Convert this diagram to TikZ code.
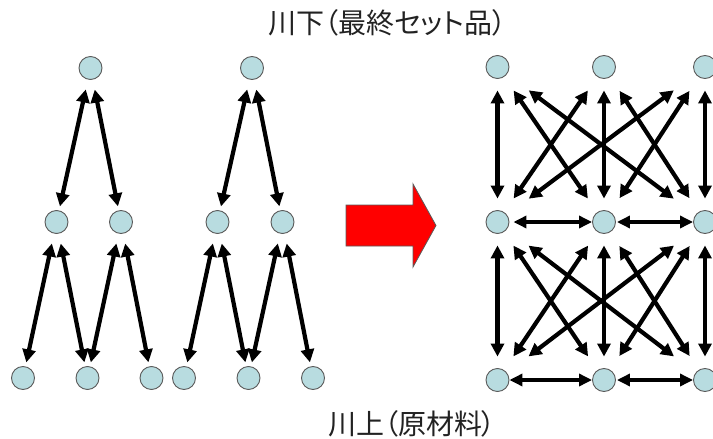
\documentclass[tikz,border=0pt]{standalone}
\usepackage{fontspec}
\newfontfamily\jp[RawFeature=+palt]{Noto Sans CJK JP}
\usetikzlibrary{arrows.meta}
\definecolor{nodefill}{HTML}{B8DCE0}
\definecolor{nodeline}{HTML}{5A5A5A}
\definecolor{txt}{HTML}{222222}
\tikzset{
  dot/.style={circle, fill=nodefill, draw=nodeline, line width=0.9pt, minimum size=23pt, inner sep=0pt},
  dbl/.style={line width=4.2pt, {Triangle[length=13pt,width=13pt]}-{Triangle[length=13pt,width=13pt]}},
  hdbl/.style={line width=3.4pt, {Triangle[length=13pt,width=12pt]}-{Triangle[length=13pt,width=12pt]}},
  tree/.style={dbl, shorten <=10pt, shorten >=4pt},
  sv/.style={dbl, shorten <=11.5pt, shorten >=11.5pt},
  sd/.style={dbl, shorten <=16.5pt, shorten >=16.5pt},
  sl/.style={dbl, shorten <=27pt, shorten >=27pt},
  lbl/.style={font=\jp\fontsize{28}{32}\selectfont, text=txt, inner sep=0pt}
}
\begin{document}
\begin{tikzpicture}[x=1pt,y=-1pt]
\useasboundingbox (0,0) rectangle (713,439);
% titles
\node[lbl] (top) at (387.5,23) {川下（最終セット品）};
\node[lbl] (bot) at (412,424) {川上（原材料）};
% left tree
\node[dot] (aT) at (90.5,68) {};
\node[dot] (aL) at (56.5,222) {};
\node[dot] (aR) at (121,222) {};
\node[dot] (a1) at (23,378) {};
\node[dot] (a2) at (87.5,378) {};
\node[dot] (a3) at (151.5,378) {};
% second tree
\node[dot] (bT) at (252,68) {};
\node[dot] (bL) at (217.5,222) {};
\node[dot] (bR) at (282.5,222) {};
\node[dot] (b1) at (184,378) {};
\node[dot] (b2) at (248.5,378) {};
\node[dot] (b3) at (313,378) {};
\foreach \p in {a,b}{
  \draw[tree] (\p T) -- (\p L);
  \draw[tree] (\p T) -- (\p R);
  \draw[tree] (\p L) -- (\p 1);
  \draw[tree] (\p L) -- (\p 2);
  \draw[tree] (\p R) -- (\p 2);
  \draw[tree] (\p R) -- (\p 3);
}
% red arrow
\draw[fill=red, draw=nodeline, line width=0.8pt, line join=miter]
  (346,205) -- (413,205) -- (413,184) -- (436,225.5) -- (413,267) -- (413,246) -- (346,246) -- cycle;
% right graph
\node[dot] (c1) at (497.5,67) {};
\node[dot] (c2) at (604,67) {};
\node[dot] (c3) at (705,67) {};
\node[dot] (d1) at (497.5,222) {};
\node[dot] (d2) at (604,222) {};
\node[dot] (d3) at (705,222) {};
\node[dot] (e1) at (497.5,380) {};
\node[dot] (e2) at (604,380) {};
\node[dot] (e3) at (705,380) {};
\foreach \u/\l in {c/d,d/e}{
  \draw[sv] (\u1) -- (\l1);
  \draw[sv] (\u2) -- (\l2);
  \draw[sv] (\u3) -- (\l3);
  \draw[sd] (\u1) -- (\l2);
  \draw[sd] (\u2) -- (\l1);
  \draw[sd] (\u2) -- (\l3);
  \draw[sd] (\u3) -- (\l2);
  \draw[sl] (\u1) -- (\l3);
  \draw[sl] (\u3) -- (\l1);
}
\draw[hdbl, shorten <=4pt] (d1) -- (d2);
\draw[hdbl, shorten <=1pt] (d2) -- (d3);
\draw[hdbl] (e1) -- (e2);
\draw[hdbl, shorten <=1pt] (e2) -- (e3);
\end{tikzpicture}
\end{document}
